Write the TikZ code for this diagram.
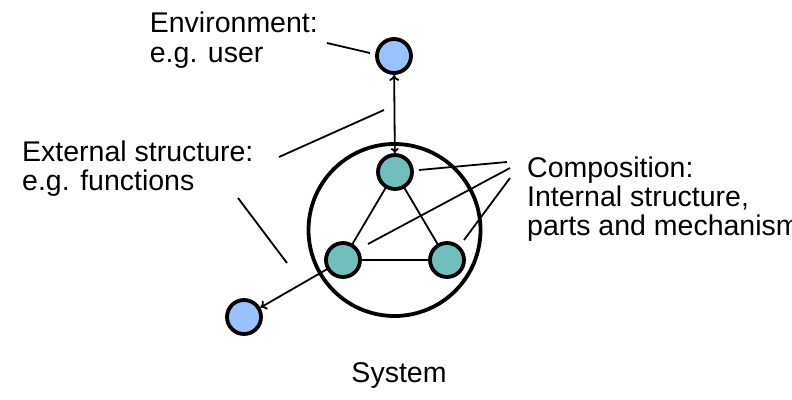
\documentclass[tikz,border=0pt]{standalone}
\usepackage{fontspec}
\setmainfont{Liberation Sans}
\usetikzlibrary{arrows.meta}
\definecolor{envblue}{RGB}{153,194,255}
\definecolor{partteal}{RGB}{112,190,190}
\begin{document}
\begin{tikzpicture}[x=1pt,y=-1pt,
  lbl/.style={anchor=base west,inner sep=0pt,font=\fontsize{28.5}{30}\selectfont},
  envnode/.style={circle,draw,line width=3.8pt,fill=envblue,minimum size=34pt,inner sep=0pt},
  partnode/.style={circle,draw,line width=3.8pt,fill=partteal,minimum size=34pt,inner sep=0pt},
  thin/.style={line width=1.8pt},
  tip/.style={-{To[length=6pt,width=10pt]}}]
\useasboundingbox (0,0) rectangle (792,399);

% system boundary and its parts
\node[circle,draw,line width=3.8pt,minimum size=172pt,inner sep=0pt] (sys) at (394.5,230) {};
\node[partnode] (top) at (395,172) {};
\node[partnode] (left) at (343,260) {};
\node[partnode] (right) at (447,260) {};

% environment elements
\node[envnode] (user) at (394,56) {};
\node[envnode] (func) at (244,317) {};

% internal structure
\draw[thin] (top) -- (left);
\draw[thin] (top) -- (right);
\draw[thin] (left) -- (right);

% external interactions
\draw[thin,{To[length=6pt,width=10pt]}-{To[length=5pt,width=8pt]}] (user) -- (top);
\draw[thin,tip] (left) -- (func);

% labels
\node[lbl,anchor=base east] (env1) at (318,32) {Environment:};
\node[lbl] (env2) at ([yshift=-30pt]env1.base west) {e.g. user};
\node[lbl] (ext1) at (22,161) {External structure:};
\node[lbl] (ext2) at (22,190) {e.g. functions};
\node[lbl] (comp1) at (527,177) {Composition:};
\node[lbl] (comp2) at (527,206) {Internal structure,};
\node[lbl] (comp3) at (527,235) {parts and mechanism};
\node[lbl,anchor=base] (syslbl) at (399,382) {System};

% pointer lines from labels
\coordinate (envA) at (327,43);
\coordinate (envB) at (370,53);
\coordinate (extA) at (279,157);
\coordinate (extB) at (384,110);
\coordinate (extC) at (238,198);
\coordinate (extD) at (287,263);
\coordinate (compA) at (507,162);
\coordinate (compB) at (510,168);
\coordinate (compC) at (510,178);
\coordinate (p1) at (419,170);
\coordinate (p2) at (368,244);
\coordinate (p3) at (464,240);
\draw[thin] (envA) -- (envB);
\draw[thin] (extA) -- (extB);
\draw[thin] (extC) -- (extD);
\draw[thin] (p1) -- (compA);
\draw[thin] (p2) -- (compB);
\draw[thin] (p3) -- (compC);
\end{tikzpicture}
\end{document}
